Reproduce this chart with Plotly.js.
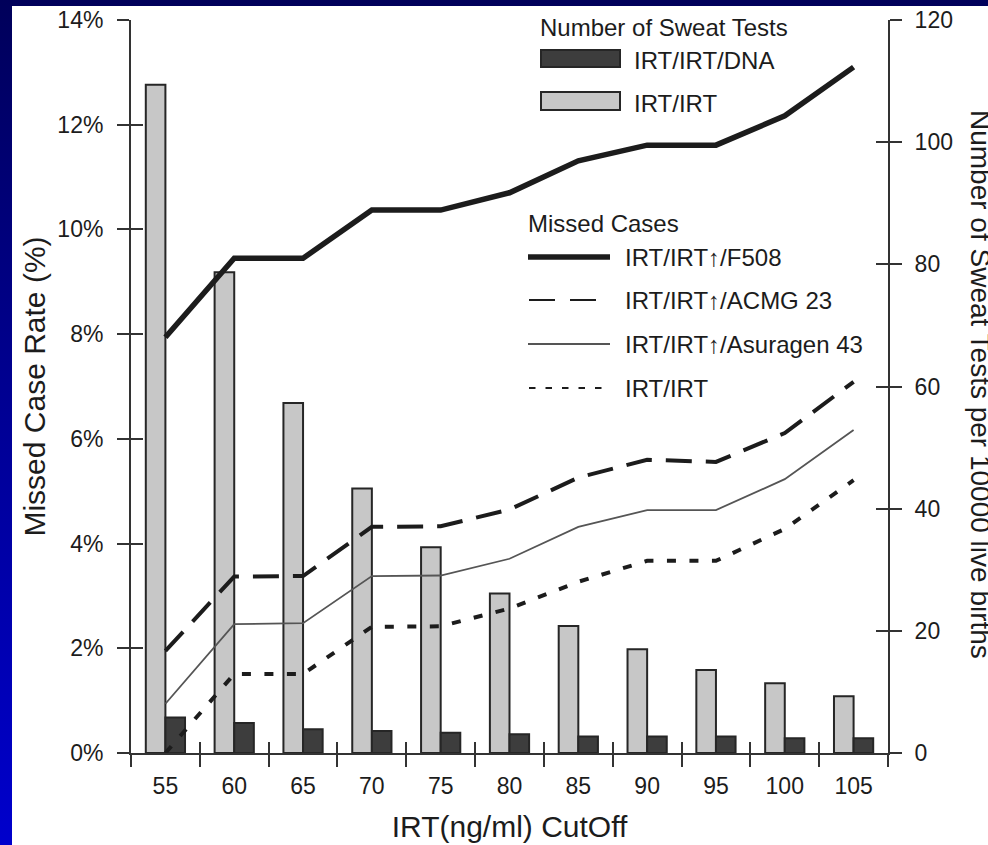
<!DOCTYPE html>
<html>
<head>
<meta charset="utf-8">
<script src="https://cdn.plot.ly/plotly-3.0.1.min.js"></script>
<style>
  html, body { margin: 0; padding: 0; width: 988px; height: 845px; overflow: hidden; }
  body { background: linear-gradient(to bottom, #00005a 0%, #000090 45%, #0000cc 100%); position: relative; }
  #chart { position: absolute; left: 12px; top: 6px; width: 976px; height: 839px; background: #ffffff; }
</style>
</head>
<body>
<div id="chart"></div>
<script>
// IRT cutoff categories (ng/ml)
const categories = ['55', '60', '65', '70', '75', '80', '85', '90', '95', '100', '105'];

// Number of sweat tests per 10000 live births (right axis)
const sweatIrt    = [109.4, 78.7, 57.3, 43.3, 33.7, 26.1, 20.8, 17.0, 13.6, 11.4, 9.3];
const sweatIrtDna = [5.8, 4.9, 3.9, 3.6, 3.3, 3.05, 2.7, 2.7, 2.7, 2.4, 2.4];

// Missed case rate in percent (left axis)
const missedF508     = [7.94, 9.45, 9.45, 10.37, 10.37, 10.70, 11.31, 11.61, 11.61, 12.17, 13.10];
const missedAcmg     = [1.95, 3.37, 3.38, 4.32, 4.33, 4.65, 5.26, 5.60, 5.56, 6.11, 7.09];
const missedAsuragen = [0.94, 2.46, 2.48, 3.38, 3.39, 3.71, 4.32, 4.64, 4.64, 5.23, 6.17];
const missedIrt      = [0.00, 1.51, 1.51, 2.41, 2.42, 2.76, 3.27, 3.67, 3.67, 4.28, 5.21];

// Axis ticks
const pctTicks = [0, 2, 4, 6, 8, 10, 12, 14];
const pctTickText = ['0%', '2%', '4%', '6%', '8%', '10%', '12%', '14%'];
const countTicks = [0, 20, 40, 60, 80, 100, 120];

const FONT = 'Liberation Sans, Arial, Helvetica, sans-serif';
const INK = '#1c1c1c';
const AXIS = '#333333';

// plot-area geometry inside the chart div
const M = { l: 119, r: 100, t: 14, b: 92 };
const DIV_W = 976, DIV_H = 839, OFF_X = 12, OFF_Y = 6;
const PW = DIV_W - M.l - M.r, PH = DIV_H - M.t - M.b;
const px = x => (x - OFF_X - M.l) / PW;
const py = y => 1 - (y - OFF_Y - M.t) / PH;

// category boundaries for the tick marks between cutoffs
const boundaries = categories.map((c, i) => i - 0.5).concat([categories.length - 0.5]);

const traces = [
  { type: 'bar', name: 'IRT/IRT', x: categories, y: sweatIrt, xaxis: 'x', yaxis: 'y',
    marker: { color: '#c7c7c7', line: { color: '#262626', width: 2 } }, showlegend: false, hoverinfo: 'skip' },
  { type: 'bar', name: 'IRT/IRT/DNA', x: categories, y: sweatIrtDna, xaxis: 'x', yaxis: 'y',
    marker: { color: '#3d3d3d', line: { color: '#262626', width: 2 } }, showlegend: false, hoverinfo: 'skip' },

  { type: 'scatter', mode: 'lines', name: 'IRT/IRT↑/Asuragen 43', x: categories, y: missedAsuragen,
    xaxis: 'x', yaxis: 'y2', line: { color: '#555555', width: 1.8 }, showlegend: false, hoverinfo: 'skip' },
  { type: 'scatter', mode: 'lines', name: 'IRT/IRT', x: categories, y: missedIrt,
    xaxis: 'x', yaxis: 'y2', line: { color: INK, width: 4, dash: '9px,13.5px' }, showlegend: false, hoverinfo: 'skip' },
  { type: 'scatter', mode: 'lines', name: 'IRT/IRT↑/ACMG 23', x: categories, y: missedAcmg,
    xaxis: 'x', yaxis: 'y2', line: { color: INK, width: 4, dash: '26px,14px' }, showlegend: false, hoverinfo: 'skip' },
  { type: 'scatter', mode: 'lines', name: 'IRT/IRT↑/F508', x: categories, y: missedF508,
    xaxis: 'x', yaxis: 'y2', line: { color: INK, width: 5.5 }, showlegend: false, hoverinfo: 'skip' },

  // carriers for the inner halves of the crossing tick marks
  { type: 'scatter', mode: 'lines', x: [null], y: [null], xaxis: 'x2', yaxis: 'y3', showlegend: false, hoverinfo: 'skip' },
  { type: 'scatter', mode: 'lines', x: [null], y: [null], xaxis: 'x2', yaxis: 'y4', showlegend: false, hoverinfo: 'skip' }
];

const tickFont = { family: FONT, size: 23, color: INK };

const layout = {
  width: DIV_W, height: DIV_H,
  margin: M,
  paper_bgcolor: '#ffffff', plot_bgcolor: '#ffffff',
  font: { family: FONT, color: INK },
  showlegend: false,
  barmode: 'group', bargap: 0.43, bargroupgap: 0,
  xaxis: {
    type: 'category', range: [-0.5, categories.length - 0.5], anchor: 'y',
    tickson: 'boundaries', ticks: 'outside', ticklen: 12, tickwidth: 2, tickcolor: AXIS,
    showline: true, linecolor: AXIS, linewidth: 2, showgrid: false, zeroline: false,
    tickfont: tickFont, ticklabelstandoff: 11,
    title: { text: 'IRT(ng/ml) CutOff', font: { family: FONT, size: 30, color: INK }, standoff: 18 }
  },
  xaxis2: {
    type: 'linear', overlaying: 'x', anchor: 'y', side: 'bottom', range: [-0.5, categories.length - 0.5],
    tickmode: 'array', tickvals: boundaries, ticks: 'inside', ticklen: 11, tickwidth: 2, tickcolor: AXIS,
    showticklabels: false, showline: false, showgrid: false, zeroline: false
  },
  yaxis: {
    side: 'right', anchor: 'x', range: [0, 120],
    tickmode: 'array', tickvals: countTicks,
    ticks: 'outside', ticklen: 12, tickwidth: 2, tickcolor: AXIS,
    showline: true, linecolor: AXIS, linewidth: 2, showgrid: false, zeroline: false,
    tickfont: tickFont, ticklabelstandoff: 8
  },
  yaxis2: {
    side: 'left', overlaying: 'y', anchor: 'x', range: [0, 14],
    tickmode: 'array', tickvals: pctTicks, ticktext: pctTickText,
    ticks: 'outside', ticklen: 12, tickwidth: 2, tickcolor: AXIS,
    showline: true, linecolor: AXIS, linewidth: 2, showgrid: false, zeroline: false,
    tickfont: tickFont, ticklabelstandoff: 9,
    title: { text: 'Missed Case Rate (%)', font: { family: FONT, size: 30, color: INK }, standoff: 3 }
  },
  yaxis3: {
    side: 'right', overlaying: 'y', anchor: 'x2', range: [0, 120],
    tickmode: 'array', tickvals: countTicks, ticks: 'inside', ticklen: 12, tickwidth: 2, tickcolor: AXIS,
    showticklabels: false, showline: false, showgrid: false, zeroline: false
  },
  yaxis4: {
    side: 'left', overlaying: 'y', anchor: 'x2', range: [0, 14],
    tickmode: 'array', tickvals: pctTicks, ticks: 'inside', ticklen: 12, tickwidth: 2, tickcolor: AXIS,
    showticklabels: false, showline: false, showgrid: false, zeroline: false
  },
  shapes: [],
  annotations: []
};

// right-hand axis title, reading downward
layout.annotations.push({
  text: 'Number of Sweat Tests per 10000 live births', textangle: 90,
  xref: 'paper', yref: 'paper', x: px(981), y: py(384), xanchor: 'center', yanchor: 'middle',
  showarrow: false, font: { family: FONT, size: 28, color: INK }
});

// key: headings, swatches and labels
const keyFont = { family: FONT, size: 24, color: INK };
function keyText(text, xPage, yPage) {
  layout.annotations.push({ text: text, xref: 'paper', yref: 'paper', x: px(xPage), y: py(yPage),
    xanchor: 'left', yanchor: 'middle', showarrow: false, font: keyFont });
}
function keyRect(x0, y0, x1, y1, fill) {
  layout.shapes.push({ type: 'rect', xref: 'paper', yref: 'paper', x0: px(x0), x1: px(x1), y0: py(y0), y1: py(y1),
    fillcolor: fill, line: { color: '#262626', width: 2 } });
}
function keyLine(x0, x1, yPage, width, color, dash) {
  layout.shapes.push({ type: 'line', xref: 'paper', yref: 'paper', x0: px(x0), x1: px(x1), y0: py(yPage), y1: py(yPage),
    line: { color: color, width: width, dash: dash || 'solid' } });
}

keyText('Number of Sweat Tests', 538, 27);
keyRect(541, 50, 620, 67, '#3d3d3d');
keyText('IRT/IRT/DNA', 632, 61);
keyRect(541, 92, 620, 110, '#c7c7c7');
keyText('IRT/IRT', 632, 103);

keyText('Missed Cases', 526, 224);
keyLine(528, 610, 257, 5.5, INK);
keyText('IRT/IRT↑/F508', 623, 257);
keyLine(529, 597, 300, 2, INK, '26px,15px');
keyText('IRT/IRT↑/ACMG 23', 623, 300);
keyLine(528, 610, 344, 1.8, '#555555');
keyText('IRT/IRT↑/Asuragen 43', 623, 344);
keyLine(529, 603, 388, 2, INK, '6.5px,10px');
keyText('IRT/IRT', 623, 388);

Plotly.newPlot('chart', traces, layout, { displayModeBar: false, staticPlot: true });
</script>
</body>
</html>
